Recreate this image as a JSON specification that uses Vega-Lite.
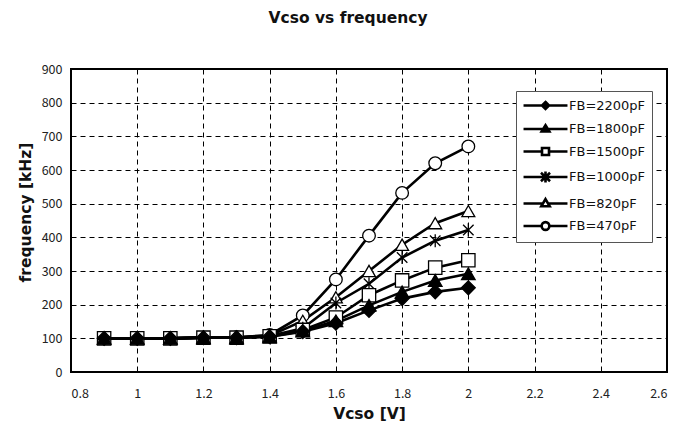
{
  "$schema": "https://vega.github.io/schema/vega-lite/v6.json",
  "autosize": "none",
  "width": 596,
  "height": 303,
  "padding": {"left": 71, "top": 69, "right": 14, "bottom": 56},
  "background": "white",
  "title": {"text": "Vcso vs frequency", "font": "DejaVu Sans", "fontSize": 15.5, "fontWeight": "bold", "color": "#111", "offset": 37, "dx": -21},
  "config": {
    "view": {"stroke": "black", "strokeWidth": 2},
    "axis": {"grid": true, "gridColor": "black", "gridDash": [5, 4], "gridWidth": 1, "gridOpacity": 1, "domain": false, "ticks": false, "labelFont": "Noto Sans CJK JP", "labelFontSize": 12.5, "labelColor": "#222", "titleFont": "DejaVu Sans", "titleFontSize": 15.5, "titleFontWeight": "bold", "titleColor": "#111"}
  },
  "data": {"values": [
    {"V": 0.9, "f": 100, "FB": "FB=470pF"}, {"V": 1.0, "f": 100, "FB": "FB=470pF"}, {"V": 1.1, "f": 100, "FB": "FB=470pF"}, {"V": 1.2, "f": 102, "FB": "FB=470pF"}, {"V": 1.3, "f": 103, "FB": "FB=470pF"}, {"V": 1.4, "f": 110, "FB": "FB=470pF"}, {"V": 1.5, "f": 168, "FB": "FB=470pF"}, {"V": 1.6, "f": 275, "FB": "FB=470pF"}, {"V": 1.7, "f": 405, "FB": "FB=470pF"}, {"V": 1.8, "f": 532, "FB": "FB=470pF"}, {"V": 1.9, "f": 620, "FB": "FB=470pF"}, {"V": 2.0, "f": 670, "FB": "FB=470pF"},
    {"V": 0.9, "f": 100, "FB": "FB=820pF"}, {"V": 1.0, "f": 100, "FB": "FB=820pF"}, {"V": 1.1, "f": 100, "FB": "FB=820pF"}, {"V": 1.2, "f": 102, "FB": "FB=820pF"}, {"V": 1.3, "f": 102, "FB": "FB=820pF"}, {"V": 1.4, "f": 108, "FB": "FB=820pF"}, {"V": 1.5, "f": 152, "FB": "FB=820pF"}, {"V": 1.6, "f": 222, "FB": "FB=820pF"}, {"V": 1.7, "f": 300, "FB": "FB=820pF"}, {"V": 1.8, "f": 378, "FB": "FB=820pF"}, {"V": 1.9, "f": 442, "FB": "FB=820pF"}, {"V": 2.0, "f": 478, "FB": "FB=820pF"},
    {"V": 0.9, "f": 100, "FB": "FB=1000pF"}, {"V": 1.0, "f": 100, "FB": "FB=1000pF"}, {"V": 1.1, "f": 100, "FB": "FB=1000pF"}, {"V": 1.2, "f": 102, "FB": "FB=1000pF"}, {"V": 1.3, "f": 102, "FB": "FB=1000pF"}, {"V": 1.4, "f": 107, "FB": "FB=1000pF"}, {"V": 1.5, "f": 130, "FB": "FB=1000pF"}, {"V": 1.6, "f": 205, "FB": "FB=1000pF"}, {"V": 1.7, "f": 262, "FB": "FB=1000pF"}, {"V": 1.8, "f": 340, "FB": "FB=1000pF"}, {"V": 1.9, "f": 390, "FB": "FB=1000pF"}, {"V": 2.0, "f": 422, "FB": "FB=1000pF"},
    {"V": 0.9, "f": 100, "FB": "FB=1500pF"}, {"V": 1.0, "f": 100, "FB": "FB=1500pF"}, {"V": 1.1, "f": 100, "FB": "FB=1500pF"}, {"V": 1.2, "f": 102, "FB": "FB=1500pF"}, {"V": 1.3, "f": 102, "FB": "FB=1500pF"}, {"V": 1.4, "f": 106, "FB": "FB=1500pF"}, {"V": 1.5, "f": 125, "FB": "FB=1500pF"}, {"V": 1.6, "f": 162, "FB": "FB=1500pF"}, {"V": 1.7, "f": 228, "FB": "FB=1500pF"}, {"V": 1.8, "f": 272, "FB": "FB=1500pF"}, {"V": 1.9, "f": 310, "FB": "FB=1500pF"}, {"V": 2.0, "f": 332, "FB": "FB=1500pF"},
    {"V": 0.9, "f": 100, "FB": "FB=1800pF"}, {"V": 1.0, "f": 100, "FB": "FB=1800pF"}, {"V": 1.1, "f": 100, "FB": "FB=1800pF"}, {"V": 1.2, "f": 102, "FB": "FB=1800pF"}, {"V": 1.3, "f": 102, "FB": "FB=1800pF"}, {"V": 1.4, "f": 105, "FB": "FB=1800pF"}, {"V": 1.5, "f": 122, "FB": "FB=1800pF"}, {"V": 1.6, "f": 152, "FB": "FB=1800pF"}, {"V": 1.7, "f": 198, "FB": "FB=1800pF"}, {"V": 1.8, "f": 238, "FB": "FB=1800pF"}, {"V": 1.9, "f": 272, "FB": "FB=1800pF"}, {"V": 2.0, "f": 292, "FB": "FB=1800pF"},
    {"V": 0.9, "f": 100, "FB": "FB=2200pF"}, {"V": 1.0, "f": 100, "FB": "FB=2200pF"}, {"V": 1.1, "f": 100, "FB": "FB=2200pF"}, {"V": 1.2, "f": 102, "FB": "FB=2200pF"}, {"V": 1.3, "f": 102, "FB": "FB=2200pF"}, {"V": 1.4, "f": 105, "FB": "FB=2200pF"}, {"V": 1.5, "f": 120, "FB": "FB=2200pF"}, {"V": 1.6, "f": 145, "FB": "FB=2200pF"}, {"V": 1.7, "f": 183, "FB": "FB=2200pF"}, {"V": 1.8, "f": 218, "FB": "FB=2200pF"}, {"V": 1.9, "f": 238, "FB": "FB=2200pF"}, {"V": 2.0, "f": 250, "FB": "FB=2200pF"}
  ]},
  "encoding": {
    "x": {"field": "V", "type": "quantitative", "title": "Vcso [V]", "scale": {"domain": [0.8, 2.6], "nice": false, "zero": false}, "axis": {"values": [0.8, 1, 1.2, 1.4, 1.6, 1.8, 2, 2.2, 2.4, 2.6], "format": "~g", "labelPadding": 15, "titlePadding": 7}},
    "y": {"field": "f", "type": "quantitative", "title": "frequency [kHz]", "scale": {"domain": [0, 900], "nice": false}, "axis": {"values": [0, 100, 200, 300, 400, 500, 600, 700, 800, 900], "labelPadding": 9, "titlePadding": 8, "titleY": 143}}
  },
  "layer": [
    {"mark": {"type": "line", "stroke": "black", "strokeWidth": 2.6}, "encoding": {"detail": {"field": "FB"}}},
    {"mark": {"type": "point", "filled": true, "stroke": "black", "strokeWidth": 1.3, "opacity": 1},
     "encoding": {
       "shape": {"field": "FB", "legend": null, "scale": {"domain": ["FB=2200pF", "FB=1800pF", "FB=1500pF", "FB=1000pF", "FB=820pF", "FB=470pF"], "range": ["diamond", "triangle-up", "square", "M-0.8,-0.8L0.8,0.8M-0.8,0.8L0.8,-0.8M0,-1L0,1", "triangle-up", "circle"]}},
       "fill": {"field": "FB", "legend": null, "scale": {"domain": ["FB=2200pF", "FB=1800pF", "FB=1500pF", "FB=1000pF", "FB=820pF", "FB=470pF"], "range": ["black", "black", "white", "black", "white", "white"]}},
       "size": {"field": "FB", "legend": null, "scale": {"domain": ["FB=2200pF", "FB=1800pF", "FB=1500pF", "FB=1000pF", "FB=820pF", "FB=470pF"], "range": [190, 160, 150, 190, 160, 55]}}
     }},
    {"transform": [{"filter": "datum.f < 0"}],
     "mark": {"type": "point", "filled": false, "stroke": "black", "strokeWidth": 2.6, "opacity": 1},
     "encoding": {
       "shape": {"field": "FB", "scale": {"domain": ["FB=2200pF", "FB=1800pF", "FB=1500pF", "FB=1000pF", "FB=820pF", "FB=470pF"], "range": [
         "M-3.14,0L3.14,0M0,-0.5L0.5,0L0,0.5L-0.5,0ZM0,-0.2L0.2,0L0,0.2L-0.2,0Z",
         "M-3.14,0L3.14,0M0,-0.55L0.55,0.35L-0.55,0.35ZM0,-0.19L0.22,0.17L-0.22,0.17Z",
         "M-3.14,0L-0.5,0M0.5,0L3.14,0M-0.5,-0.5L0.5,-0.5L0.5,0.5L-0.5,0.5Z",
         "M-3.14,0L3.14,0M-0.65,-0.6L0.65,0.6M-0.65,0.6L0.65,-0.6M0,-0.8L0,0.8",
         "M-3.14,0L-0.35,0M0.35,0L3.14,0M0,-0.63L0.6,0.4L-0.6,0.4Z",
         "M-3.14,0L-0.55,0M0.55,0L3.14,0M0.55,0A0.55,0.55 0 1,1 -0.55,0A0.55,0.55 0 1,1 0.55,0Z"
       ]},
         "legend": {"title": null, "orient": "none", "legendX": 445, "legendY": 22, "fillColor": "white", "strokeColor": "#555", "padding": 6, "symbolSize": 196, "symbolOffset": 15, "symbolStrokeWidth": 2.6, "symbolStrokeColor": "black", "symbolFillColor": "transparent", "symbolOpacity": 1, "labelFont": "DejaVu Sans", "labelFontSize": 13, "labelColor": "#111", "labelOffset": 15, "rowPadding": 4.5,
           "encode": {"symbols": {"opacity": {"value": 1}, "stroke": {"value": "black"}, "strokeWidth": {"value": 2.6}}}}}
     }}
  ],
  "resolve": {"scale": {"shape": "independent", "fill": "independent"}, "legend": {"shape": "independent"}}
}
